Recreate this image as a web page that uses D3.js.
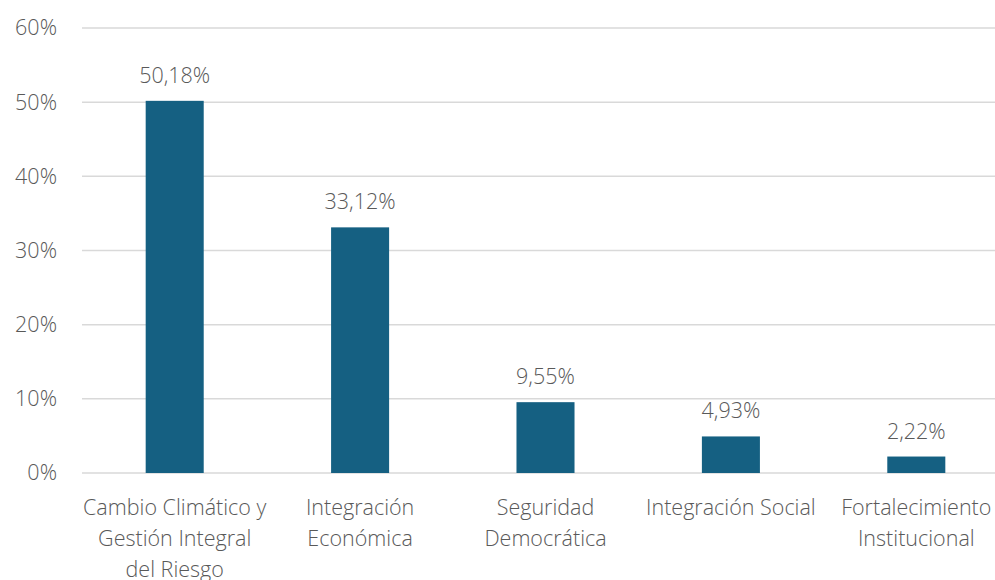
<!DOCTYPE html>
<html><head><meta charset="utf-8">
<script src="https://cdn.jsdelivr.net/npm/d3@7"></script>
<style>body{margin:0;background:#fff}svg{display:block}</style>
</head><body>
<svg id="c" width="995" height="580"></svg>
<script>
const categories = [
  ["Cambio Climático y", "Gestión Integral", "del Riesgo"],
  ["Integración", "Económica"],
  ["Seguridad", "Democrática"],
  ["Integración Social"],
  ["Fortalecimiento", "Institucional"]
];
const values = [50.18, 33.12, 9.55, 4.93, 2.22];
const yTicks = [0, 10, 20, 30, 40, 50, 60];
const valueLabels = ["50,18%", "33,12%", "9,55%", "4,93%", "2,22%"];

const svg = d3.select("#c");
const font = "'Open Sans', sans-serif";
const textColor = "#595959";
const fs = 21.5;
const x = d3.scaleBand().domain(d3.range(categories.length)).range([82, 1009]).paddingInner(0.687).paddingOuter(0.3435);
const y = d3.scaleLinear().domain([0, 60]).range([473, 28]);

// gridlines
svg.append("g").selectAll("line").data(yTicks).join("line")
  .attr("x1", 82).attr("x2", 995)
  .attr("y1", d => y(d)).attr("y2", d => y(d))
  .attr("stroke", "#d9d9d9").attr("stroke-width", 1.5);

// y axis labels
const yAxis = d3.axisLeft(y).tickValues(yTicks).tickFormat(d => d + "%").tickSize(0).tickPadding(0);
const ga = svg.append("g").attr("transform", "translate(57,0)").call(yAxis);
ga.select(".domain").remove();
ga.selectAll("text").attr("font-family", font).attr("font-weight", 300).attr("font-size", fs).attr("fill", textColor);

// bars
svg.append("g").selectAll("rect").data(values).join("rect")
  .attr("x", (d, i) => x(i)).attr("width", x.bandwidth())
  .attr("y", d => y(d)).attr("height", d => y(0) - y(d))
  .attr("fill", "#156082");

// value labels
svg.append("g").selectAll("text").data(values).join("text")
  .attr("x", (d, i) => x(i) + x.bandwidth() / 2)
  .attr("y", d => y(d) - 18)
  .attr("text-anchor", "middle")
  .attr("font-family", font).attr("font-weight", 300).attr("font-size", fs).attr("fill", textColor)
  .text((d, i) => valueLabels[i]);

// category labels
const cg = svg.append("g").selectAll("text").data(categories).join("text")
  .attr("text-anchor", "middle")
  .attr("font-family", font).attr("font-weight", 300).attr("font-size", fs).attr("fill", textColor);
cg.each(function(lines, i) {
  const t = d3.select(this);
  lines.forEach((ln, k) => {
    t.append("tspan").attr("x", x(i) + x.bandwidth() / 2).attr("y", 515 + k * 31).text(ln);
  });
});
</script>
</body></html>
